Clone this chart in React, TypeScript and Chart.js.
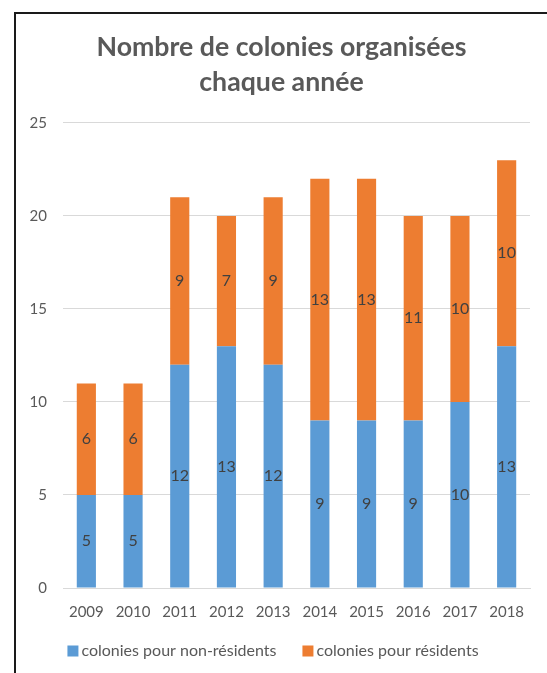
import React, { useEffect, useRef } from "react";
import { Chart, registerables } from "chart.js";

Chart.register(...registerables);

const years = ["2009", "2010", "2011", "2012", "2013", "2014", "2015", "2016", "2017", "2018"];
const nonResidents = [5, 5, 12, 13, 12, 9, 9, 9, 10, 13];
const residents = [6, 6, 9, 7, 9, 13, 13, 11, 10, 10];
const seriesNames = ["colonies pour non-résidents", "colonies pour résidents"];
const titleLines = ["Nombre de colonies organisées", "chaque année"];

const FONT = "Lato, 'Open Sans', sans-serif";
const RIGHT_RESERVE = 17;

const labelPlugin = {
  id: "barLabels",
  afterDatasetsDraw(chart: any) {
    const ctx = chart.ctx;
    ctx.save();
    ctx.font = `16px ${FONT}`;
    ctx.fillStyle = "#404040";
    ctx.textAlign = "center";
    ctx.textBaseline = "middle";
    chart.data.datasets.forEach((ds: any, di: number) => {
      const meta = chart.getDatasetMeta(di);
      meta.data.forEach((bar: any, i: number) => {
        const v = ds.data[i];
        const y = (bar.y + bar.base) / 2;
        ctx.fillText(String(v), bar.x, y);
      });
    });
    ctx.restore();
  },
};

const legendPlugin = {
  id: "customLegend",
  afterDraw(chart: any) {
    const ctx = chart.ctx;
    ctx.save();
    ctx.font = `16px ${FONT}`;
    ctx.textBaseline = "middle";
    ctx.textAlign = "left";
    const box = 11;
    const textGap = 3;
    const itemGap = 26;
    const items = chart.data.datasets.map((ds: any) => ({
      label: ds.label,
      color: ds.backgroundColor,
      w: box + textGap + ctx.measureText(ds.label).width,
    }));
    const total = items.reduce((s: number, it: any) => s + it.w, 0) + itemGap * (items.length - 1);
    let x = (chart.width - RIGHT_RESERVE) / 2 - total / 2;
    const y = chart.height - 22;
    items.forEach((it: any) => {
      ctx.fillStyle = it.color;
      ctx.fillRect(x, y - box / 2, box, box);
      ctx.fillStyle = "#595959";
      ctx.fillText(it.label, x + box + textGap, y);
      x += it.w + itemGap;
    });
    ctx.restore();
  },
};

export default function App() {
  const ref = useRef<HTMLCanvasElement>(null);
  useEffect(() => {
    document.body.style.margin = "0";
    const chart = new Chart(ref.current!, {
      type: "bar",
      data: {
        labels: years,
        datasets: [
          {
            label: seriesNames[0],
            data: nonResidents,
            backgroundColor: "#5B9BD5",
            barPercentage: 0.41,
            categoryPercentage: 1,
          },
          {
            label: seriesNames[1],
            data: residents,
            backgroundColor: "#ED7D31",
            barPercentage: 0.41,
            categoryPercentage: 1,
          },
        ],
      },
      options: {
        animation: false,
        responsive: true,
        maintainAspectRatio: false,
        layout: { padding: { left: 0, right: 0, top: 0, bottom: 45 } },
        plugins: {
          title: {
            display: true,
            text: titleLines,
            color: "#595959",
            font: { family: FONT, size: 26.7, weight: "bold", lineHeight: 1.31 },
            padding: { top: 16, bottom: 23 },
          },
          legend: { display: false },
          tooltip: { enabled: false },
        },
        scales: {
          x: {
            stacked: true,
            grid: { display: false },
            border: { display: true, color: "#D9D9D9" },
            ticks: { color: "#595959", font: { family: FONT, size: 15 }, padding: 7 },
          },
          y: {
            stacked: true,
            min: 0,
            max: 25,
            ticks: { stepSize: 5, color: "#595959", font: { family: FONT, size: 15 }, padding: 16 },
            grid: { color: "#D9D9D9", drawTicks: false },
            border: { display: false },
            afterFit(scale: any) {
              scale.width = 47;
            },
          },
          yRight: {
            position: "right",
            display: true,
            grid: { display: false },
            border: { display: false },
            ticks: { display: false },
            afterFit(scale: any) {
              scale.width = RIGHT_RESERVE;
            },
          },
        },
      },
      plugins: [labelPlugin, legendPlugin],
    });
    return () => chart.destroy();
  }, []);
  return (
    <div style={{ position: "relative", width: 547, height: 673, background: "#fff", overflow: "hidden" }}>
      <div
        style={{
          position: "absolute",
          left: 14,
          top: 12,
          width: 533,
          height: 661,
          borderLeft: "2px solid #1a1a1a",
          borderTop: "2px solid #1a1a1a",
          boxSizing: "border-box",
        }}
      >
        <div style={{ position: "relative", width: 531, height: 659 }}>
          <canvas ref={ref} />
        </div>
      </div>
    </div>
  );
}
